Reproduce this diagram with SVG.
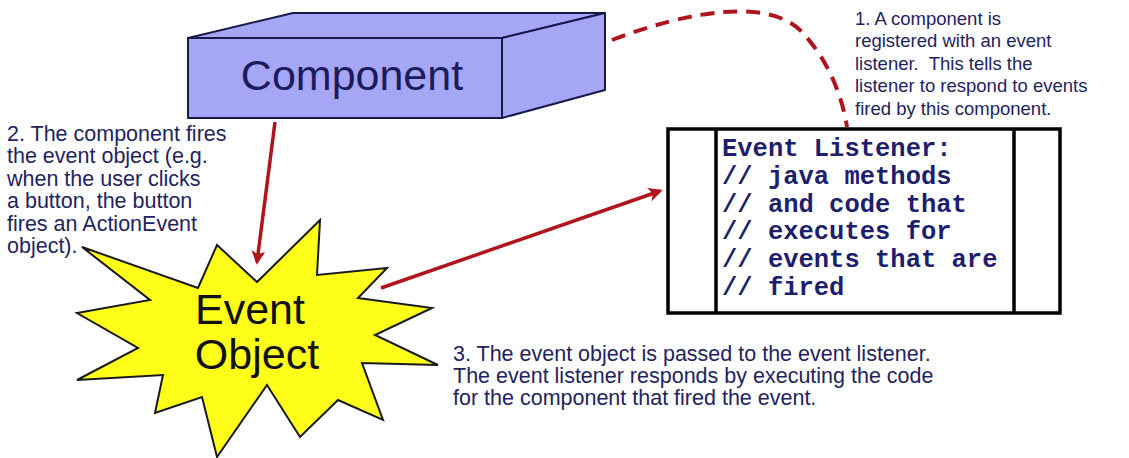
<svg xmlns="http://www.w3.org/2000/svg" width="1129" height="458" viewBox="0 0 1129 458">
<defs>
<style>
.note{font-family:"Liberation Sans",Arial,sans-serif;font-size:18.5px;fill:#23235e;}
.note.lg{font-size:21.5px;}
.code{font-family:"Liberation Mono","Courier New",monospace;font-size:25.5px;font-weight:bold;fill:#1e1e6e;}
.big{font-family:"Liberation Sans",Arial,sans-serif;font-size:43px;}
.face{fill:#a6a6f6;stroke:#1a1a4a;stroke-width:2;stroke-linejoin:round;}
.arrow{stroke:#b0141c;stroke-width:3.5;fill:none;}
</style>
<marker id="ah" viewBox="0 0 10 10" refX="8" refY="5" markerWidth="4" markerHeight="4" orient="auto" markerUnits="strokeWidth">
<path d="M0,0 L10,5 L0,10 L2.5,5 z" fill="#b0141c"/>
</marker>
</defs>
<rect width="1129" height="458" fill="#ffffff"/>

<g id="component">
<polygon class="face" points="188,38 293,13 605,13 502,38"/>
<polygon class="face" points="502,38 605,13 605,90 502,118"/>
<rect class="face" x="188" y="38" width="314" height="80"/>
<text class="big" x="352" y="90" text-anchor="middle" fill="#1c1c5c">Component</text>
</g>

<g id="event-object">
<polygon points="82,247 198,288 217,245 257,282 320,220 317,275 387,268 358,298 432,308 375,335 438,365 362,363 383,420 338,400 300,437 267,385 217,457 202,397 155,413 163,375 77,380 138,348 77,313 150,300" fill="#ffff1a" stroke="#1a1a1a" stroke-width="2" stroke-linejoin="miter"/>
<text class="big" x="250" y="324" text-anchor="middle" fill="#111">Event</text>
<text class="big" x="257" y="369" text-anchor="middle" fill="#111">Object</text>
</g>

<g id="event-listener">
<rect x="668" y="129" width="392" height="184" fill="#fff" stroke="#000" stroke-width="3.5"/>
<line x1="716" y1="129" x2="716" y2="313" stroke="#000" stroke-width="3.5"/>
<line x1="1014" y1="129" x2="1014" y2="313" stroke="#000" stroke-width="3.5"/>
<text class="code" x="722" y="156">Event Listener:</text>
<text class="code" x="722" y="184">// java methods</text>
<text class="code" x="722" y="212">// and code that</text>
<text class="code" x="722" y="239">// executes for</text>
<text class="code" x="722" y="267">// events that are</text>
<text class="code" x="722" y="295">// fired</text>
</g>

<g id="note1">
<text class="note" x="855" y="25">1. A component is</text>
<text class="note" x="855" y="47">registered with an event</text>
<text class="note" x="855" y="70" xml:space="preserve">listener.  This tells the</text>
<text class="note" x="855" y="92">listener to respond to events</text>
<text class="note" x="855" y="115">fired by this component.</text>
</g>

<g id="note2">
<text class="note lg" x="7" y="141">2. The component fires</text>
<text class="note lg" x="7" y="163">the event object (e.g.</text>
<text class="note lg" x="7" y="186">when the user clicks</text>
<text class="note lg" x="7" y="208">a button, the button</text>
<text class="note lg" x="7" y="231">fires an ActionEvent</text>
<text class="note lg" x="7" y="253">object).</text>
</g>

<g id="note3">
<text class="note lg" x="453" y="361">3. The event object is passed to the event listener.</text>
<text class="note lg" x="453" y="383">The event listener responds by executing the code</text>
<text class="note lg" x="453" y="405">for the component that fired the event.</text>
</g>

<g id="connectors">
<line class="arrow" x1="275" y1="122" x2="257" y2="262" marker-end="url(#ah)"/>
<line class="arrow" x1="381" y1="288" x2="660" y2="191" marker-end="url(#ah)"/>
<path d="M612,40 C690,10 770,-2 802,32 C828,60 842,95 847,127" fill="none" stroke="#b0141c" stroke-width="4" stroke-dasharray="14,9"/>
</g>
</svg>
